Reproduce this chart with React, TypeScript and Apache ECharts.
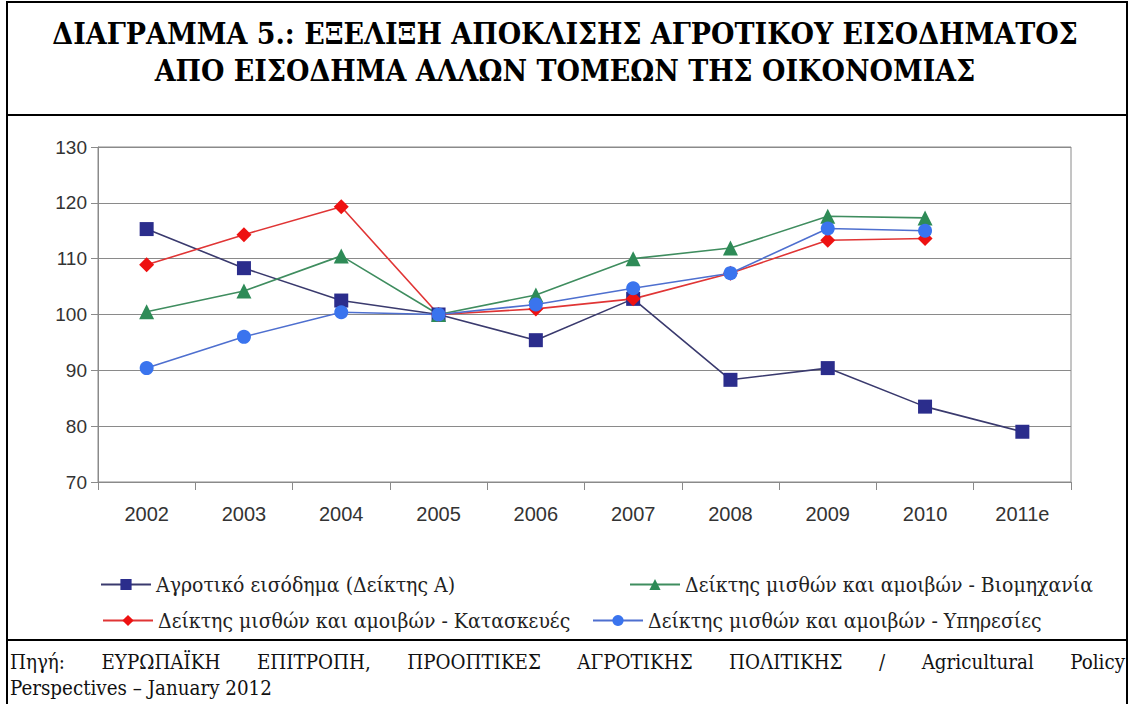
import React, { useEffect, useRef } from "react";
import * as echarts from "echarts";

const titleLines = [
  "ΔΙΑΓΡΑΜΜΑ 5.: ΕΞΕΛΙΞΗ ΑΠΟΚΛΙΣΗΣ ΑΓΡΟΤΙΚΟΥ ΕΙΣΟΔΗΜΑΤΟΣ",
  "ΑΠΟ ΕΙΣΟΔΗΜΑ ΑΛΛΩΝ ΤΟΜΕΩΝ ΤΗΣ ΟΙΚΟΝΟΜΙΑΣ",
];
const sourceLine1 = "Πηγή: ΕΥΡΩΠΑΪΚΗ ΕΠΙΤΡΟΠΗ, ΠΡΟΟΠΤΙΚΕΣ ΑΓΡΟΤΙΚΗΣ ΠΟΛΙΤΙΚΗΣ / Agricultural Policy";
const sourceLine2 = "Perspectives – January 2012";

const years = ["2002", "2003", "2004", "2005", "2006", "2007", "2008", "2009", "2010", "2011e"];
const yTicks = { min: 70, max: 130, interval: 10 };

const seriesNames = [
  "Αγροτικό εισόδημα (Δείκτης Α)",
  "Δείκτης μισθών και αμοιβών - Βιομηχανία",
  "Δείκτης μισθών και αμοιβών - Κατασκευές",
  "Δείκτης μισθών και αμοιβών - Υπηρεσίες",
];
const agro = [115.3, 108.3, 102.5, 100, 95.4, 102.8, 88.3, 90.4, 83.5, 79.0];
const industry = [100.5, 104.2, 110.5, 100, 103.5, 110.0, 111.9, 117.6, 117.3, null];
const construction = [108.9, 114.3, 119.3, 100, 101.0, 102.8, 107.4, 113.3, 113.6, null];
const services = [90.4, 96.0, 100.4, 100, 101.8, 104.7, 107.4, 115.4, 115.0, null];

const W = 1130;
const H = 704;
const SERIF = "'DejaVu Serif Condensed', 'DejaVu Serif', serif";
const SANS = "'Liberation Sans', Arial, sans-serif";

function measure(text: string, font: string) {
  const canvas = document.createElement("canvas");
  const ctx = canvas.getContext("2d")!;
  ctx.font = font;
  return ctx.measureText(text).width;
}

function sizeFor(text: string, weight: string, target: number) {
  const w = measure(text, `${weight} 20px ${SERIF}`);
  return w > 0 ? (20 * target) / w : 20;
}

function justifyWords(text: string, x0: number, x1: number, font: string) {
  const words = text.split(" ");
  const widths = words.map((w) => measure(w, font));
  const total = widths.reduce((a, b) => a + b, 0);
  const gap = (x1 - x0 - total) / (words.length - 1);
  const out: { word: string; x: number }[] = [];
  let x = x0;
  words.forEach((w, i) => {
    out.push({ word: w, x });
    x += widths[i] + gap;
  });
  return out;
}

export default function App() {
  const ref = useRef<HTMLDivElement>(null);
  useEffect(() => {
    if (!ref.current) return;
    const chart = echarts.init(ref.current, null, { renderer: "svg" });

    const titleSize = Math.min(34, sizeFor(titleLines[0], "bold", 1026));
    const legendSize = Math.min(
      21,
      (sizeFor(seriesNames[1], "normal", 402) + sizeFor(seriesNames[3], "normal", 435) + sizeFor(seriesNames[2], "normal", 430)) / 3
    );
    const srcSize = Math.min(21, sizeFor(sourceLine1, "normal", 1060), sizeFor(sourceLine2, "normal", 262));
    const srcFont = `normal ${srcSize}px ${SERIF}`;
    const justified = justifyWords(sourceLine1, 10, 1125, srcFont);

    const mk = (
      name: string,
      data: (number | null)[],
      symbol: string,
      symbolSize: number,
      markerColor: string,
      lineColor: string
    ) => ({
      type: "line",
      name,
      data,
      symbol,
      symbolSize,
      showSymbol: true,
      lineStyle: { color: lineColor, width: 1.6 },
      itemStyle: { color: markerColor, borderWidth: 0 },
      emphasis: { disabled: true },
      z: 3,
    });

    const legendPos = [
      { left: 100, top: 574 },
      { left: 629, top: 574 },
      { left: 102, top: 610 },
      { left: 592, top: 610 },
    ];

    chart.setOption({
      animation: false,
      backgroundColor: "#ffffff",
      grid: {
        left: 98,
        right: W - 1071,
        top: 147,
        bottom: H - 482,
        show: true,
        borderColor: "#8a8a8a",
        borderWidth: 1,
        backgroundColor: "transparent",
      },
      legend: seriesNames.map((n, i) => ({
        data: [n],
        left: legendPos[i].left,
        top: legendPos[i].top,
        selectedMode: false,
        itemWidth: 50,
        itemHeight: 14,
        itemGap: 4,
        padding: 0,
        textStyle: { fontFamily: SERIF, fontSize: legendSize, color: "#222" },
      })),
      xAxis: {
        type: "category",
        data: years,
        boundaryGap: true,
        axisLine: { lineStyle: { color: "#8a8a8a", width: 1 } },
        axisTick: { show: true, length: 8, interval: 0, lineStyle: { color: "#8a8a8a" } },
        axisLabel: { fontFamily: SANS, fontSize: 20, color: "#333", margin: 22, interval: 0 },
      },
      yAxis: {
        type: "value",
        min: yTicks.min,
        max: yTicks.max,
        interval: yTicks.interval,
        axisLine: { show: true, lineStyle: { color: "#8a8a8a", width: 1 } },
        axisTick: { show: true, length: 7, lineStyle: { color: "#8a8a8a" } },
        axisLabel: { fontFamily: SANS, fontSize: 19, color: "#333", margin: 11 },
        splitLine: { show: true, lineStyle: { color: "#8a8a8a", width: 1 } },
      },
      series: [
        mk(seriesNames[0], agro, "rect", 14, "#2b2d8c", "#3a3a6e"),
        mk(seriesNames[1], industry, "triangle", 15, "#2e8b57", "#3f8d5f"),
        mk(seriesNames[2], construction, "diamond", 15, "#ee1111", "#e03535"),
        mk(seriesNames[3], services, "circle", 14, "#3a74ee", "#4e6fcf"),
      ],
      graphic: [
        { type: "line", shape: { x1: 7, y1: 2, x2: 1127, y2: 2 }, style: { stroke: "#000", lineWidth: 2 } },
        { type: "line", shape: { x1: 7, y1: 1, x2: 7, y2: H }, style: { stroke: "#000", lineWidth: 2 } },
        { type: "line", shape: { x1: 1127, y1: 1, x2: 1127, y2: H }, style: { stroke: "#000", lineWidth: 2 } },
        { type: "line", shape: { x1: 7, y1: 115, x2: 1127, y2: 115 }, style: { stroke: "#000", lineWidth: 2 } },
        { type: "line", shape: { x1: 7, y1: 640, x2: 1127, y2: 640 }, style: { stroke: "#000", lineWidth: 2 } },
        ...titleLines.map((t, i) => ({
          type: "text",
          x: 565,
          y: 33 + i * 37,
          style: {
            text: t,
            fontFamily: SERIF,
            fontSize: titleSize,
            fontWeight: "bold",
            fill: "#000",
            align: "center",
            verticalAlign: "middle",
          },
        })),
        ...justified.map((w) => ({
          type: "text",
          x: w.x,
          y: 662,
          style: {
            text: w.word,
            fontFamily: SERIF,
            fontSize: srcSize,
            fill: "#111",
            align: "left",
            verticalAlign: "middle",
          },
        })),
        {
          type: "text",
          x: 10,
          y: 688,
          style: {
            text: sourceLine2,
            fontFamily: SERIF,
            fontSize: srcSize,
            fill: "#111",
            align: "left",
            verticalAlign: "middle",
          },
        },
      ],
    });
    return () => chart.dispose();
  }, []);
  return (
    <div
      ref={ref}
      style={{ position: "fixed", left: 0, top: 0, width: W, height: H, background: "#fff" }}
    />
  );
}
